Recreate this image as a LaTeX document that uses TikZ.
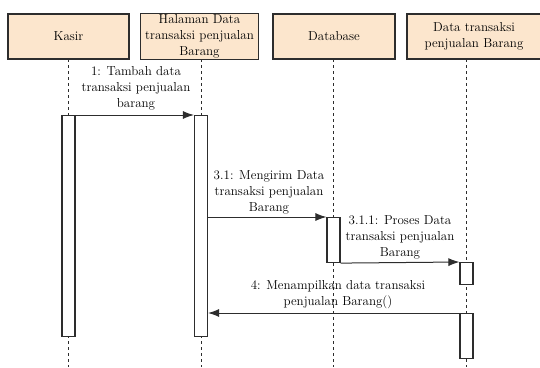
\documentclass[tikz,border=0pt]{standalone}
\usetikzlibrary{arrows.meta}
\definecolor{peach}{RGB}{252,230,205}
\definecolor{edge}{RGB}{45,45,45}
\begin{document}
\begin{tikzpicture}[x=1pt,y=-1pt,
  obj/.style={draw=edge, line width=1.2pt, fill=peach, minimum height=45pt, inner sep=1pt, align=center, font=\rmfamily\fontsize{13}{16}\selectfont},
  life/.style={draw=edge, line width=0.9pt, dash pattern=on 3pt off 3pt},
  bar/.style={draw=edge, line width=1.1pt, fill=white, minimum width=13pt, inner sep=0pt, anchor=north},
  msg/.style={draw=edge, line width=1pt, -{Latex[length=11pt,width=8pt]}},
  lbl/.style={align=center, inner sep=0pt, font=\rmfamily\fontsize{13}{16}\selectfont}]
\useasboundingbox (0,0) rectangle (540,367);
% lifeline heads
\node[obj, minimum width=121pt] (kasir) at (68.5,36.5) {Kasir};
\node[obj, minimum width=118pt] (halaman) at (199.5,36.5) {\fontsize{13}{18}\selectfont Halaman Data\\transaksi penjualan\\Barang};
\node[obj, minimum width=122pt] (db) at (334,36.5) {Database};
\node[obj, minimum width=134pt] (trx) at (474,36.5) {Data transaksi\\penjualan Barang};
% lifelines
\coordinate (kend) at (68.5,367);
\coordinate (hend) at (201,367);
\coordinate (dend) at (333.5,367);
\coordinate (tend) at (466.5,367);
\draw[life] (68.5,59) -- (kend);
\draw[life] (201,59) -- (hend);
\draw[life] (333.5,59) -- (dend);
\draw[life] (466.5,59) -- (tend);
% activations
\node[bar, minimum height=221pt] (kbar) at (68.5,115) {};
\node[bar, minimum height=221pt] (hbar) at (201,115) {};
\node[bar, minimum height=45pt] (dbar) at (333.5,217) {};
\node[bar, minimum height=22pt] (tbar1) at (466.5,262) {};
\node[bar, minimum height=45pt] (tbar2) at (466.5,313) {};
% messages
\draw[msg] (kbar.north east) -- (hbar.north west);
\node[lbl] (m1) at (136,88) {1: Tambah data\\transaksi penjualan\\barang};
\draw[msg] (hbar.east |- dbar.north) -- (dbar.north west);
\node[lbl] (m2) at (269,192) {3.1: Mengirim Data\\transaksi penjualan\\Barang};
\draw[msg] (dbar.south east) -- (tbar1.north west);
\node[lbl] (m3) at (400,237) {3.1.1: Proses Data\\transaksi penjualan\\Barang};
\draw[msg] (tbar2.north west) -- (hbar.east |- tbar2.north);
\node[lbl] (m4) at (338,295) {4: Menampilkan data transaksi\\penjualan Barang()};
\end{tikzpicture}
\end{document}
